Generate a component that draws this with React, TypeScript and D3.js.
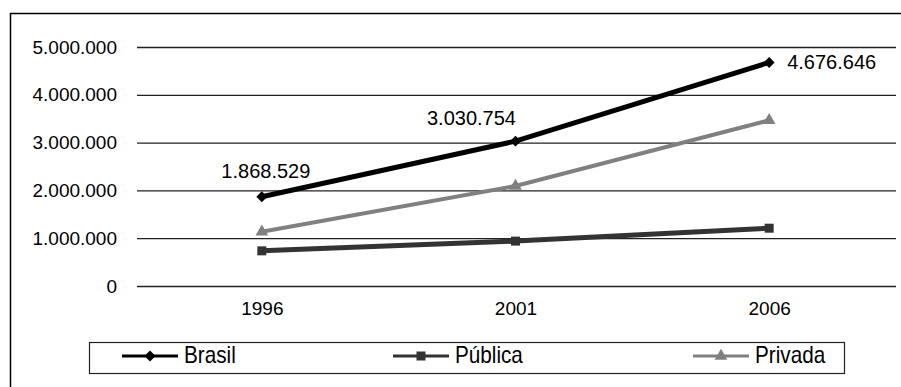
import React, { useRef, useEffect } from "react";
import * as d3 from "d3";

const years = ["1996", "2001", "2006"];
const brasil = [1868529, 3030754, 4676646];
const publica = [735427, 939225, 1209304];
const privada = [1133102, 2091529, 3467342];
const yTicks = [0, 1000000, 2000000, 3000000, 4000000, 5000000];

const WIDTH = 901;
const HEIGHT = 387;

const App: React.FC = () => {
    const ref = useRef<SVGSVGElement | null>(null);

    useEffect(() => {
        if (!ref.current) return;
        document.body.style.margin = "0";

        const svg = d3.select(ref.current);
        svg.selectAll("*").remove();

        const font = "'Liberation Sans', Arial, sans-serif";
        const margin = { top: 47, right: 5, bottom: 101, left: 135 };

        const ptBR = d3.formatLocale({
            decimal: ",",
            thousands: ".",
            grouping: [3],
            currency: ["R$", ""],
        });
        const fmt = ptBR.format(",d");

        // frame (only top and left show)
        svg
            .append("rect")
            .attr("x", 10.5)
            .attr("y", 13.5)
            .attr("width", WIDTH)
            .attr("height", HEIGHT)
            .attr("fill", "none")
            .attr("stroke", "#000")
            .attr("stroke-width", 1.5);

        const x = d3
            .scalePoint<string>()
            .domain(years)
            .range([margin.left, WIDTH - margin.right])
            .padding(0.5);

        const y = d3
            .scaleLinear()
            .domain([0, 5000000])
            .range([HEIGHT - margin.bottom, margin.top]);

        // y axis + gridlines
        const yAxis = svg
            .append("g")
            .attr("transform", `translate(137,0)`)
            .call(
                d3
                    .axisLeft(y)
                    .tickValues(yTicks)
                    .tickSize(-(WIDTH - margin.right - 137))
                    .tickPadding(20)
                    .tickFormat(d => fmt(d as number))
            );
        yAxis.select(".domain").remove();
        yAxis.selectAll(".tick line").attr("stroke", "#222").attr("stroke-width", 1.3);
        yAxis
            .selectAll(".tick text")
            .attr("fill", "#000")
            .style("font-family", font)
            .style("font-size", "19px");

        // x axis
        const xAxis = svg
            .append("g")
            .attr("transform", `translate(0,${y(0)})`)
            .call(d3.axisBottom(x).tickSize(0).tickPadding(16));
        xAxis.select(".domain").remove();
        xAxis
            .selectAll(".tick text")
            .attr("fill", "#000")
            .style("font-family", font)
            .style("font-size", "19px");

        const series = [
            { name: "Brasil", values: brasil, color: "#000000", width: 5, symbol: d3.symbolSquare, size: 60, rotate: 45 },
            { name: "Pública", values: publica, color: "#333333", width: 5, symbol: d3.symbolSquare, size: 81, rotate: 0 },
            { name: "Privada", values: privada, color: "#808080", width: 4, symbol: d3.symbolTriangle, size: 70, rotate: 0 },
        ];

        const line = d3
            .line<number>()
            .x((_, i) => x(years[i])!)
            .y(d => y(d));

        series.forEach(s => {
            svg
                .append("path")
                .datum(s.values)
                .attr("fill", "none")
                .attr("stroke", s.color)
                .attr("stroke-width", s.width)
                .attr("d", line);

            svg
                .append("g")
                .selectAll("path")
                .data(s.values)
                .enter()
                .append("path")
                .attr("transform", (d, i) => `translate(${x(years[i])},${y(d)}) rotate(${s.rotate})`)
                .attr("d", d3.symbol().type(s.symbol).size(s.size)())
                .attr("fill", s.color);
        });

        // data labels for Brasil
        const labelPos = [
            { dx: 4, dy: -19, anchor: "middle" },
            { dx: -44, dy: -16, anchor: "middle" },
            { dx: 18, dy: 7, anchor: "start" },
        ];
        svg
            .append("g")
            .selectAll("text")
            .data(brasil)
            .enter()
            .append("text")
            .attr("x", (_, i) => x(years[i])! + labelPos[i].dx)
            .attr("y", (d, i) => y(d) + labelPos[i].dy)
            .attr("text-anchor", (_, i) => labelPos[i].anchor)
            .attr("fill", "#000")
            .style("font-family", font)
            .style("font-size", "20px")
            .text(d => fmt(d));

        // legend
        const legend = svg.append("g");
        legend
            .append("rect")
            .attr("x", 89.5)
            .attr("y", 342.5)
            .attr("width", 755)
            .attr("height", 31)
            .attr("fill", "#fff")
            .attr("stroke", "#222")
            .attr("stroke-width", 1.2);

        const legendX = [122, 393, 693];
        series.forEach((s, i) => {
            const g = legend.append("g").attr("transform", `translate(${legendX[i]},356)`);
            g.append("line")
                .attr("x1", 0)
                .attr("x2", 56)
                .attr("stroke", s.color)
                .attr("stroke-width", 3);
            g.append("path")
                .attr("transform", `translate(28,0) rotate(${s.rotate})`)
                .attr("d", d3.symbol().type(s.symbol).size(s.size)())
                .attr("fill", s.color);
            g.append("text")
                .attr("transform", "translate(62,7) scale(0.9,1)")
                .attr("fill", "#000")
                .style("font-family", font)
                .style("font-size", "23px")
                .text(s.name);
        });
    }, []);

    return <svg ref={ref} width={WIDTH} height={HEIGHT} style={{ display: "block", background: "#fff" }} />;
};

export default App;
